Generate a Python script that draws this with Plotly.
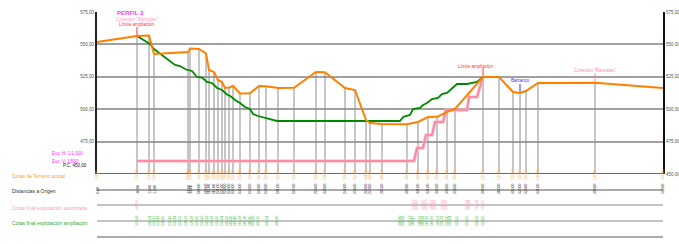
import plotly.graph_objects as go

# ---------------- data ----------------
terrain_dist = [0, 40, 52, 57, 91, 93, 102, 109, 112, 117, 121, 125, 128, 132, 136, 143, 153, 162, 169,
                181, 197, 219, 228, 248, 258, 269, 273, 285, 310, 321, 331, 340, 350, 358, 386, 402, 416,
                423, 429, 441, 498, 566]
terrain_elev = [551.85, 556.48, 556.87, 542.59, 544.14, 546.84, 546.45, 542.98, 530.25, 528.70, 522.53,
                520.99, 516.36, 516.74, 517.90, 512.11, 512.30, 517.90, 517.71, 516.36, 516.55, 528.70,
                528.51, 516.36, 514.81, 491.67, 489.35, 488.58, 488.40, 490.12, 493.98, 494.10, 497.84,
                500.15, 524.85, 524.85, 513.27, 512.50, 514.04, 520.22, 520.40, 516.36]

green_dist = [40, 53, 57, 61, 66, 73, 78, 83, 89, 95, 100, 105, 110, 115, 120, 125, 130, 134, 138, 143,
              148, 153, 156, 161, 170, 180, 303, 306, 313, 316, 323, 326, 330, 335, 341, 345, 350, 353,
              360, 370, 380, 386]
green_elev = [556.48, 550.31, 546.45, 544.14, 541.05, 537.19, 534.11, 533.33, 530.63, 529.48, 524.85,
              524.46, 520.99, 520.22, 516.36, 514.81, 511.34, 509.80, 507.10, 504.78, 501.70, 500.15,
              496.30, 494.75, 493.21, 490.90, 490.90, 493.98, 495.53, 500.15, 500.93, 503.24, 504.78,
              507.87, 508.64, 511.73, 512.50, 514.81, 519.45, 519.45, 520.99, 524.85]

pink_dist = [40, 317, 320, 326, 329, 335, 338, 346, 349, 370, 372, 380, 386]
pink_elev = [460.03, 460.03, 470.06, 470.06, 480.09, 480.09, 490.12, 490.12, 499.38, 499.38, 509.41,
             509.41, 524.85]

y_ticks = [450, 475, 500, 525, 550, 575]
left_ticks = [475, 500, 525, 550, 575]

marks = [  # (distance, label, color, label elevation, tick top)
    (40, "Límite ampliación", "#ff3333", 565.7, 563.4),
    (386, "Límite ampliación", "#ff3333", 533.3, 531.8),
    (423, "Barranco", "#3333ff", 521.8, 519.4),
    (498, "Conexión \"Rancales\"", "#ff88aa", 530.2, 527.9),
]
extra_label = (40, "Conexión \"Rancales\"", "#ff99bb", 569.6)

row_titles = ["Cotas de Terreno actual", "Distancias a Origen",
              "Cotas final explotación autorizada", "Cotas final explotación ampliación"]
row_colors = ["#ff9933", "#333333", "#ff99bb", "#33aa33"]

FONT = "Liberation Sans, Arial, sans-serif"
X0, X1 = 0, 566
Y0, Y1 = 450, 575
PLOT_TOP, PLOT_BOT = 12, 174  # pixel rows


def fmt(v):
    return f"{v:.2f}".replace(".", ",")


def py(pix):  # pixel row -> paper y
    return (PLOT_BOT - pix) / (PLOT_BOT - PLOT_TOP)


def px(pix):  # pixel col -> paper x
    return (pix - 97) / 566


fig = go.Figure()

# station vertical lines
vx, vy = [], []
for d, e in zip(terrain_dist[1:-1], terrain_elev[1:-1]):
    vx += [d, d, None]
    vy += [Y0, e, None]
fig.add_trace(go.Scatter(x=vx, y=vy, mode="lines", line=dict(color="#8e8e8e", width=1),
                         hoverinfo="skip", showlegend=False))

# marker ticks
for d, lab, col, le, top in marks:
    base = terrain_elev[terrain_dist.index(d)]
    fig.add_trace(go.Scatter(x=[d, d], y=[base, top], mode="lines", line=dict(color=col, width=1),
                             hoverinfo="skip", showlegend=False))

# baseline
fig.add_trace(go.Scatter(x=[X0, X1], y=[Y0, Y0], mode="lines", line=dict(color="#ff00ff", width=2.2),
                         hoverinfo="skip", showlegend=False, cliponaxis=False))

fig.add_trace(go.Scatter(x=pink_dist, y=pink_elev, mode="lines", line=dict(color="#ffb0c0", width=3.2),
                         hoverinfo="skip", showlegend=False))
fig.add_trace(go.Scatter(x=pink_dist, y=pink_elev, mode="lines", line=dict(color="#ff809a", width=1.4),
                         hoverinfo="skip", showlegend=False))
fig.add_trace(go.Scatter(x=green_dist, y=green_elev, mode="lines", line=dict(color="#008800", width=1.8),
                         hoverinfo="skip", showlegend=False))
fig.add_trace(go.Scatter(x=terrain_dist, y=terrain_elev, mode="lines", line=dict(color="#ff8000", width=2),
                         hoverinfo="skip", showlegend=False))

# right axis dummy
fig.add_trace(go.Scatter(x=[X0], y=[Y0], yaxis="y2", mode="markers", marker=dict(opacity=0),
                         hoverinfo="skip", showlegend=False))

ann = []
ann.append(dict(x=33, y=py(8), xref="x", yref="paper", text="<b>PERFIL 3</b>", showarrow=False,
                font=dict(family=FONT, size=6, color="#ff33ff")))
d, lab, col, le = extra_label
ann.append(dict(x=d, y=le, xref="x", yref="y", text=lab, showarrow=False,
                font=dict(family=FONT, size=4.5, color=col)))
for d, lab, col, le, top in marks:
    ann.append(dict(x=d - (7 if lab.startswith("Límite") and d > 100 else 0), y=le, xref="x", yref="y",
                    text=lab, showarrow=False, font=dict(family=FONT, size=4.5, color=col)))

# scale texts
ann.append(dict(x=px(50), y=py(158), xref="paper", yref="paper", xanchor="left", text="Esc. H: 1/1.000",
                showarrow=False, font=dict(family=FONT, size=4.5, color="#ff33ff")))
ann.append(dict(x=px(50), y=py(165.5), xref="paper", yref="paper", xanchor="left", text="Esc. V: 1/500",
                showarrow=False, font=dict(family=FONT, size=4.5, color="#ff33ff")))
ann.append(dict(x=px(89), y=py(169.5), xref="paper", yref="paper", xanchor="right", text="P.C. 450,00",
                showarrow=False, font=dict(family=FONT, size=4.5, color="#222222")))

# row titles
row_y = [181, 196, 213, 228]
for t, c, yy in zip(row_titles, row_colors, row_y):
    ann.append(dict(x=px(10), y=py(yy), xref="paper", yref="paper", xanchor="left", text=t,
                    showarrow=False, font=dict(family=FONT, size=5, color=c)))

SMALL = 3.4
for d, e in zip(terrain_dist, terrain_elev):
    ann.append(dict(x=d, y=py(182), xref="x", yref="paper", text=fmt(e), textangle=-90, showarrow=False,
                    font=dict(family=FONT, size=SMALL, color="#ffaa55")))
    ann.append(dict(x=d, y=py(196), xref="x", yref="paper", text=fmt(d), textangle=-90, showarrow=False,
                    font=dict(family=FONT, size=SMALL, color="#333333")))
for d, e in zip(pink_dist, pink_elev):
    ann.append(dict(x=d, y=py(212), xref="x", yref="paper", text=fmt(e), textangle=-90, showarrow=False,
                    font=dict(family=FONT, size=SMALL, color="#ff99bb")))
for d, e in zip(green_dist, green_elev):
    ann.append(dict(x=d, y=py(228), xref="x", yref="paper", text=fmt(e), textangle=-90, showarrow=False,
                    font=dict(family=FONT, size=SMALL, color="#44bb44")))

shapes = []
for yy, col, w in [(190, "#aaaaaa", 1.8), (205, "#888888", 1.2), (221, "#888888", 1.2), (237, "#aaaaaa", 1.8)]:
    shapes.append(dict(type="line", xref="x", yref="paper", x0=X0, x1=X1, y0=py(yy), y1=py(yy),
                       line=dict(color=col, width=w)))

fig.update_layout(
    width=679, height=244,
    autosize=False,
    margin=dict(l=97, r=16, t=12, b=70, pad=0, autoexpand=False),
    paper_bgcolor="white", plot_bgcolor="white",
    showlegend=False,
    xaxis=dict(range=[X0, X1], showgrid=False, zeroline=False, showticklabels=False, showline=False,
               automargin=False),
    yaxis=dict(range=[Y0, Y1], tickvals=left_ticks, ticktext=[fmt(v) for v in left_ticks],
               showgrid=True, gridcolor="#a0a0a0", gridwidth=1.5, zeroline=False,
               showline=True, linecolor="#222222", linewidth=2, automargin=False,
               tickfont=dict(family=FONT, size=4.5, color="#555555")),
    yaxis2=dict(range=[Y0, Y1], overlaying="y", side="right", tickvals=y_ticks,
                ticktext=[fmt(v) for v in y_ticks], showgrid=False, zeroline=False,
                showline=True, linecolor="#111111", linewidth=2, automargin=False,
                tickfont=dict(family=FONT, size=4.5, color="#555555")),
    annotations=ann,
    shapes=shapes,
)

fig.write_html("out.html", config={"displayModeBar": False},
               post_script="document.body.style.margin='0';document.body.style.padding='0';"
                           "document.documentElement.style.overflow='hidden';")
